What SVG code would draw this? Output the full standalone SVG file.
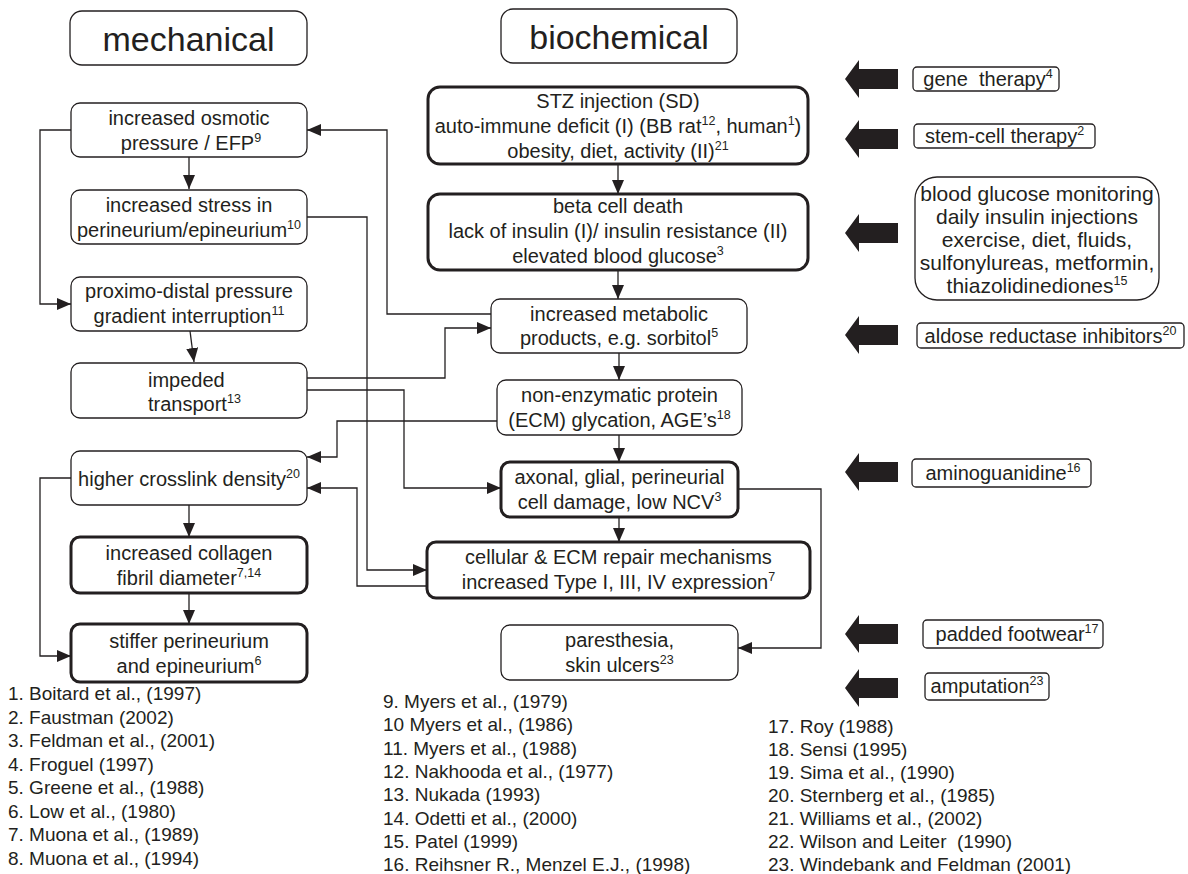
<svg xmlns="http://www.w3.org/2000/svg" width="1188" height="874" viewBox="0 0 1188 874">
<defs>
<style>
text{font-family:"Liberation Sans",Arial,Helvetica,sans-serif;font-size:20px;fill:#231f20}
.c{text-anchor:middle}
.h{font-size:34px}
.s{font-size:12.5px}
.r{font-size:19px}
.g{font-size:21px}
.pre{white-space:pre}
.n{fill:#fff;stroke:#231f20;stroke-width:1.3}
.t{fill:#fff;stroke:#231f20;stroke-width:3}
.ar{fill:none;stroke:#231f20;stroke-width:1.3;marker-end:url(#ah)}
.big{fill:#231f20}
</style>
<marker id="ah" markerUnits="userSpaceOnUse" markerWidth="14" markerHeight="12" refX="14" refY="6" orient="auto">
<path d="M0,0 L14,6 L0,12 z" fill="#231f20"/>
</marker>
</defs>
<rect width="1188" height="874" fill="#fff"/>

<g id="hdr-mechanical"><rect class="n" x="70" y="11" width="237" height="54" rx="12"/><text class="c h" x="188.5" y="51">mechanical</text></g>
<g id="hdr-biochemical"><rect class="n" x="501" y="9" width="236" height="54" rx="12"/><text class="c h" x="619" y="49">biochemical</text></g>

<g id="connectors">
<path class="ar" d="M189,157 V189"/>
<path class="ar" d="M71,130 H40 V304 H71"/>
<path class="ar" d="M190,331 L194,362"/>
<path class="ar" d="M307,217 H367 V570 H427"/>
<path class="ar" d="M491,314 H387 V130 H307"/>
<path class="ar" d="M307,378 H445 V328 H491"/>
<path class="ar" d="M307,390 H404 V488 H501"/>
<path class="ar" d="M497,421 H337 V457 H307"/>
<path class="ar" d="M427,586 H357 V488 H307"/>
<path class="ar" d="M189,505 V537"/>
<path class="ar" d="M189,593 V624"/>
<path class="ar" d="M71,478 H40 V656 H71"/>
<path class="ar" d="M618,164 V194"/>
<path class="ar" d="M618,270 V299"/>
<path class="ar" d="M619,353 V380"/>
<path class="ar" d="M619,435 V462"/>
<path class="ar" d="M619,517 V542"/>
<path class="ar" d="M738,489 H821 V648 H738"/>
</g>

<g id="n-osmotic"><rect class="n" x="71" y="103" width="236" height="54" rx="9"/>
<text class="c" x="189" y="125">increased osmotic</text>
<text class="c" x="191" y="150">pressure / EFP<tspan class="s" dy="-8">9</tspan></text></g>
<g id="n-stress"><rect class="n" x="71" y="190" width="236" height="54" rx="9"/>
<text class="c" x="189" y="212">increased stress in</text>
<text class="c" x="189" y="237">perineurium/epineurium<tspan class="s" dy="-8">10</tspan></text></g>
<g id="n-proximo"><rect class="n" x="71" y="277" width="236" height="54" rx="9"/>
<text class="c" x="189" y="298">proximo-distal pressure</text>
<text class="c" x="189" y="323">gradient interruption<tspan class="s" dy="-8">11</tspan></text></g>
<g id="n-impeded"><rect class="n" x="71" y="363" width="236" height="55" rx="9"/>
<text x="148" y="387">impeded</text>
<text x="148" y="411">transport<tspan class="s" dy="-8">13</tspan></text></g>
<g id="n-crosslink"><rect class="n" x="71" y="451" width="236" height="54" rx="9"/>
<text class="c" x="189" y="486">higher crosslink density<tspan class="s" dy="-8">20</tspan></text></g>
<g id="n-collagen"><rect class="t" x="71" y="537" width="236" height="56" rx="9"/>
<text class="c" x="189" y="560">increased collagen</text>
<text class="c" x="189" y="585">fibril diameter<tspan class="s" dy="-8">7,14</tspan></text></g>
<g id="n-stiffer"><rect class="t" x="71" y="624" width="236" height="58" rx="9"/>
<text class="c" x="189" y="648">stiffer perineurium</text>
<text class="c" x="189" y="673">and epineurium<tspan class="s" dy="-8">6</tspan></text></g>

<g id="n-stz"><rect class="t" x="428" y="87" width="380" height="77" rx="12"/>
<text class="c" x="618" y="108">STZ injection (SD)</text>
<text class="c" x="618" y="133">auto-immune deficit (I) (BB rat<tspan class="s" dy="-8">12</tspan><tspan dy="8">, human</tspan><tspan class="s" dy="-8">1</tspan><tspan dy="8">)</tspan></text>
<text class="c" x="618" y="158">obesity, diet, activity (II)<tspan class="s" dy="-8">21</tspan></text></g>
<g id="n-beta"><rect class="t" x="428" y="194" width="380" height="76" rx="12"/>
<text class="c" x="618" y="213">beta cell death</text>
<text class="c" x="618" y="238">lack of insulin (I)/ insulin resistance (II)</text>
<text class="c" x="618" y="263">elevated blood glucose<tspan class="s" dy="-8">3</tspan></text></g>
<g id="n-metabolic"><rect class="n" x="491" y="299" width="256" height="54" rx="9"/>
<text class="c" x="619" y="321">increased metabolic</text>
<text class="c" x="619" y="345">products, e.g. sorbitol<tspan class="s" dy="-8">5</tspan></text></g>
<g id="n-glycation"><rect class="n" x="497" y="380" width="245" height="55" rx="9"/>
<text class="c" x="619.5" y="402">non-enzymatic protein</text>
<text class="c" x="619.5" y="427">(ECM) glycation, AGE’s<tspan class="s" dy="-8">18</tspan></text></g>
<g id="n-axonal"><rect class="t" x="501" y="462" width="237" height="55" rx="9"/>
<text class="c" x="619.5" y="484">axonal, glial, perineurial</text>
<text class="c" x="619.5" y="509">cell damage, low NCV<tspan class="s" dy="-8">3</tspan></text></g>
<g id="n-repair"><rect class="t" x="427" y="542" width="383" height="56" rx="9"/>
<text class="c" x="618.5" y="564">cellular &amp; ECM repair mechanisms</text>
<text class="c" x="618.5" y="589">increased Type I, III, IV expression<tspan class="s" dy="-8">7</tspan></text></g>
<g id="n-paresthesia"><rect class="n" x="501" y="625" width="237" height="55" rx="9"/>
<text class="c" x="619.5" y="647">paresthesia,</text>
<text class="c" x="619.5" y="672">skin ulcers<tspan class="s" dy="-8">23</tspan></text></g>

<g id="tx-gene"><path class="big" d="M845,79 L859,60 V69 H898 V89 H859 V98 Z"/>
<rect class="n" x="913" y="67" width="146" height="24" rx="4"/>
<text class="c pre" x="988" y="86">gene  therapy<tspan class="s" dy="-8">4</tspan></text></g>
<g id="tx-stem"><path class="big" d="M845,139 L859,120 V129 H898 V149 H859 V158 Z"/>
<rect class="n" x="914" y="124" width="181" height="24" rx="4"/>
<text class="c" x="1004.5" y="143">stem-cell therapy<tspan class="s" dy="-8">2</tspan></text></g>
<g id="tx-glucose"><path class="big" d="M845,233 L859,214 V223 H898 V243 H859 V252 Z"/>
<rect class="n" x="915" y="177" width="244" height="123" rx="22"/>
<text class="c g" x="1037" y="201">blood glucose monitoring</text>
<text class="c g" x="1037" y="224">daily insulin injections</text>
<text class="c g" x="1037" y="247">exercise, diet, fluids,</text>
<text class="c g" x="1037" y="270">sulfonylureas, metformin,</text>
<text class="c g" x="1037" y="293">thiazolidinediones<tspan class="s" dy="-8">15</tspan></text></g>
<g id="tx-aldose"><path class="big" d="M845,335 L859,316 V325 H898 V345 H859 V354 Z"/>
<rect class="n" x="917" y="323" width="267" height="25" rx="4"/>
<text class="c" x="1050.5" y="343">aldose reductase inhibitors<tspan class="s" dy="-8">20</tspan></text></g>
<g id="tx-amino"><path class="big" d="M845,472 L859,453 V462 H898 V482 H859 V491 Z"/>
<rect class="n" x="912" y="459" width="179" height="28" rx="4"/>
<text class="c" x="1003" y="480">aminoguanidine<tspan class="s" dy="-8">16</tspan></text></g>
<g id="tx-padded"><path class="big" d="M845,634 L859,615 V624 H898 V644 H859 V653 Z"/>
<rect class="n" x="923" y="620" width="180" height="28" rx="4"/>
<text class="c" x="1017" y="641">padded footwear<tspan class="s" dy="-8">17</tspan></text></g>
<g id="tx-amputation"><path class="big" d="M845,688 L859,669 V678 H898 V698 H859 V707 Z"/>
<rect class="n" x="925" y="673" width="124" height="27" rx="4"/>
<text class="c" x="987" y="693">amputation<tspan class="s" dy="-8">23</tspan></text></g>

<g id="refs1">
<text class="r" x="8" y="700">1. Boitard et al., (1997)</text>
<text class="r" x="8" y="723.5">2. Faustman (2002)</text>
<text class="r" x="8" y="747">3. Feldman et al., (2001)</text>
<text class="r" x="8" y="770.5">4. Froguel (1997)</text>
<text class="r" x="8" y="794">5. Greene et al., (1988)</text>
<text class="r" x="8" y="817.5">6. Low et al., (1980)</text>
<text class="r" x="8" y="841">7. Muona et al., (1989)</text>
<text class="r" x="8" y="864.5">8. Muona et al., (1994)</text>
</g>
<g id="refs2">
<text class="r" x="383" y="708">9. Myers et al., (1979)</text>
<text class="r" x="383" y="731.3">10 Myers et al., (1986)</text>
<text class="r" x="383" y="754.6">11. Myers et al., (1988)</text>
<text class="r" x="383" y="777.9">12. Nakhooda et al., (1977)</text>
<text class="r" x="383" y="801.2">13. Nukada (1993)</text>
<text class="r" x="383" y="824.5">14. Odetti et al., (2000)</text>
<text class="r" x="383" y="847.8">15. Patel (1999)</text>
<text class="r" x="383" y="871">16. Reihsner R., Menzel E.J., (1998)</text>
</g>
<g id="refs3">
<text class="r" x="768" y="733">17. Roy (1988)</text>
<text class="r" x="768" y="756">18. Sensi (1995)</text>
<text class="r" x="768" y="779">19. Sima et al., (1990)</text>
<text class="r" x="768" y="802">20. Sternberg et al., (1985)</text>
<text class="r" x="768" y="825">21. Williams et al., (2002)</text>
<text class="r pre" x="768" y="848">22. Wilson and Leiter  (1990)</text>
<text class="r" x="768" y="871">23. Windebank and Feldman (2001)</text>
</g>
</svg>
